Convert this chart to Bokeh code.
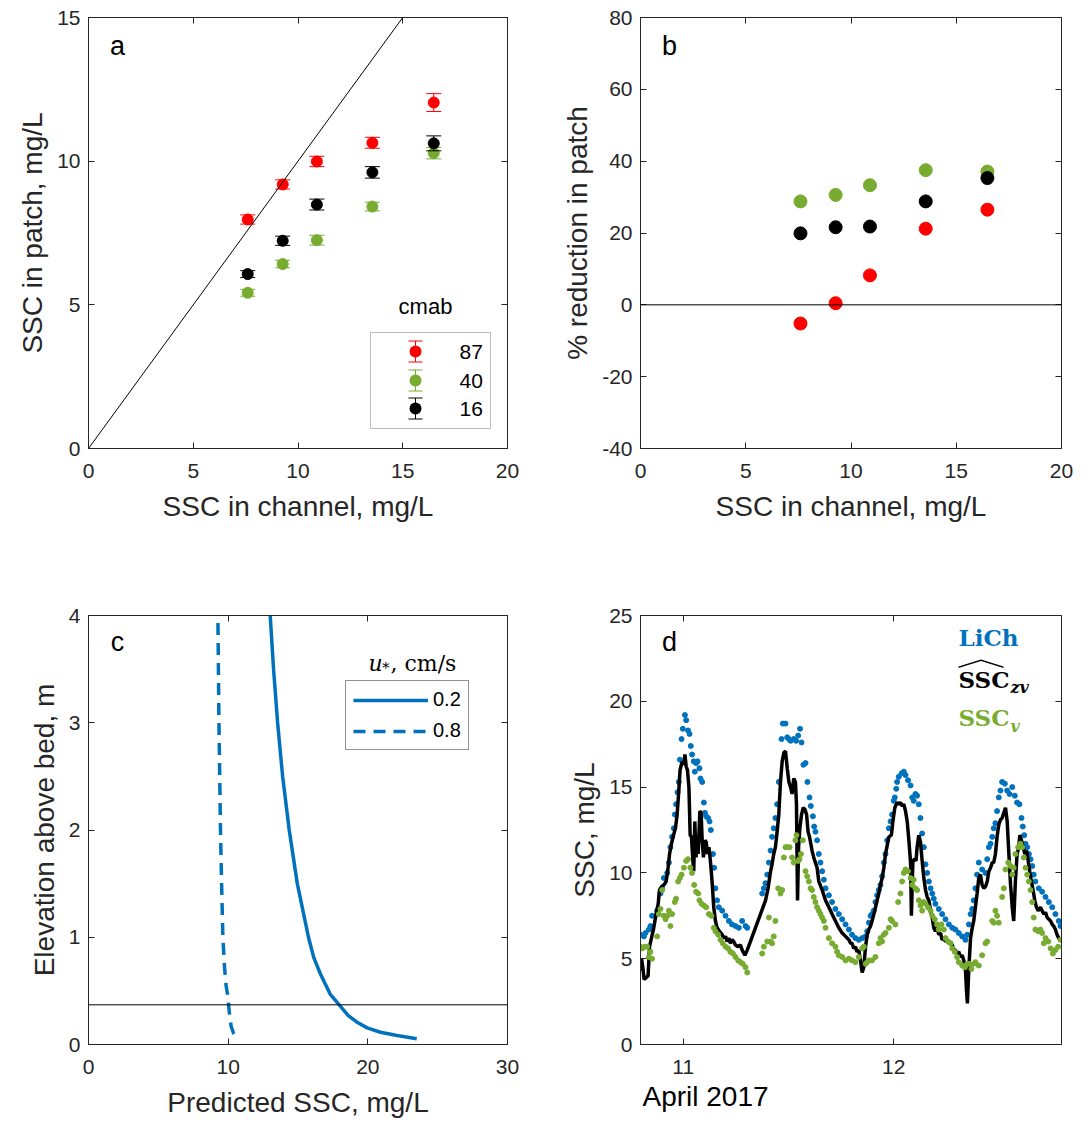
from bokeh.plotting import figure
from bokeh.models import (ColumnDataSource, Whisker, TeeHead, Span, Slope, Label, Legend, LegendItem,
                          LinearAxis, FixedTicker, Range1d, BoxAnnotation, PolyAnnotation, Title)
from bokeh.layouts import column, row
from bokeh.embed import file_html
from bokeh.resources import INLINE

SANS = "Liberation Sans"
SERIF = "DejaVu Serif"
AX = "#262626"
RED = "#FF0000"
GREEN = "#77AC30"
BLACK = "#000000"
BLUE = "#0072BD"

# ---------------- data ----------------
# panel a / b : SSC in channel (mg/L)
chan_ssc = [7.6, 9.27, 10.9, 13.55, 16.48]
cmab_labels = ["87", "40", "16"]
patch_87 = [7.97, 9.19, 9.99, 10.64, 12.04]
err_87 = [0.16, 0.16, 0.18, 0.19, 0.31]
patch_40 = [5.42, 6.42, 7.25, 8.42, 10.28]
err_40 = [0.12, 0.13, 0.17, 0.15, 0.20]
patch_16 = [6.07, 7.23, 8.49, 9.61, 10.62]
err_16 = [0.12, 0.16, 0.19, 0.20, 0.26]

red_87_reduction = [-5.2, 0.45, 8.2, 21.2, 26.5]
green_40_reduction = [28.8, 30.6, 33.3, 37.5, 37.1]
black_16_reduction = [19.9, 21.6, 21.8, 28.8, 35.3]

# panel c : predicted SSC profiles
ustar_labels = ["0.2", "0.8"]
z_02 = [4.0, 3.5, 3.0, 2.5, 2.0, 1.5, 1.0, 0.81, 0.66, 0.47, 0.356, 0.27, 0.21, 0.155, 0.114, 0.084, 0.053]
ssc_02 = [13.01, 13.25, 13.54, 13.9, 14.37, 14.95, 15.75, 16.13, 16.6, 17.3, 18.04, 18.6, 19.2, 19.95,
          20.9, 22.1, 23.5]
z_08 = [3.93, 3.0, 2.0, 1.5, 1.0, 0.72, 0.55, 0.45, 0.3, 0.17, 0.1, 0.056]
ssc_08 = [9.27, 9.34, 9.45, 9.53, 9.62, 9.74, 9.85, 9.98, 10.08, 10.21, 10.4, 10.64]
bed_line_z = 0.37

# panel d : time series (day of April 2017)
lich_t = [10.797, 10.813, 10.821, 10.837, 10.844, 10.852, 10.876, 10.892, 10.900, 10.908, 10.924, 10.932,
          10.939, 10.947, 10.955, 10.960, 10.966, 10.973, 10.979, 10.984, 10.992, 10.998, 11.008, 11.014,
          11.023, 11.030, 11.036, 11.042, 11.050, 11.055, 11.061, 11.068, 11.077, 11.082, 11.090, 11.098,
          11.103, 11.109, 11.118, 11.125, 11.131, 11.141, 11.147, 11.153, 11.161, 11.169, 11.185, 11.201,
          11.217, 11.232, 11.248, 11.264, 11.280, 11.296, 11.304,
          11.375, 11.383, 11.391, 11.399, 11.407, 11.415, 11.422, 11.430, 11.438, 11.446, 11.454, 11.467,
          11.473, 11.486, 11.494, 11.502, 11.510, 11.525, 11.536, 11.546, 11.555, 11.562, 11.571, 11.581,
          11.590, 11.600, 11.606, 11.616, 11.622, 11.628, 11.636, 11.644, 11.652, 11.660, 11.668, 11.676,
          11.692, 11.707, 11.723, 11.739, 11.755, 11.771, 11.787, 11.802, 11.818, 11.834, 11.850, 11.866,
          11.874, 11.882, 11.890, 11.897, 11.905, 11.913, 11.921, 11.929, 11.937, 11.945, 11.953, 11.961,
          11.969, 11.977, 11.985, 11.992, 12.000, 12.005, 12.012, 12.016, 12.024, 12.037, 12.048, 12.056,
          12.068, 12.080, 12.088, 12.095, 12.103, 12.111, 12.119, 12.127, 12.135, 12.143, 12.151, 12.159,
          12.167, 12.175, 12.183, 12.190, 12.198, 12.214, 12.230, 12.246, 12.262, 12.278, 12.293, 12.309,
          12.325, 12.341, 12.349, 12.357, 12.365, 12.373, 12.380, 12.388, 12.396, 12.404, 12.420, 12.436,
          12.444, 12.452, 12.460, 12.468, 12.475, 12.483, 12.491, 12.499, 12.507, 12.515, 12.528, 12.539,
          12.550, 12.563, 12.575, 12.586, 12.597, 12.607, 12.613, 12.620, 12.626, 12.634, 12.642, 12.650,
          12.658, 12.665, 12.673, 12.689, 12.705, 12.721, 12.737, 12.753, 12.768, 12.784, 12.792]
lich_v = [6.4, 6.3, 6.5, 6.7, 6.9, 7.5, 7.8, 8.8, 9.1, 9.7, 10.0, 10.6,
          11.5, 12.1, 12.6, 13.4, 14.0, 14.7, 15.3, 16.6, 17.8, 18.4, 19.2, 18.9,
          18.3, 18.1, 17.4, 16.9, 16.5, 15.9, 16.4, 16.5, 16.1, 15.5, 15.3, 14.1,
          13.5, 13.3, 13.2, 13.0, 12.5, 11.1, 10.3, 9.1, 8.4, 8.0, 7.8, 7.5,
          7.2, 7.0, 6.9, 6.8, 7.2, 6.9, 6.8,
          8.8, 9.1, 9.4, 9.9, 10.6, 11.3, 12.1, 12.6, 13.2, 14.0, 15.3, 17.8,
          18.7, 18.7, 17.9, 17.8, 17.7, 17.8, 17.7, 18.0, 18.4, 17.6, 16.3, 16.4,
          15.3, 14.4, 13.9, 13.3, 12.7, 12.4, 11.9, 11.1, 10.6, 10.1, 9.6, 9.1,
          8.7, 8.3, 7.9, 7.6, 7.3, 7.0, 6.7, 6.4, 6.2, 6.1, 6.2, 6.3,
          6.6, 7.1, 7.5, 7.6, 7.8, 8.3, 8.7, 9.0, 9.3, 9.8, 10.6, 11.1,
          11.9, 12.6, 13.0, 13.4, 14.2, 14.4, 14.9, 15.3, 15.6, 15.8, 15.9, 15.7,
          15.4, 15.1, 14.4, 14.2, 14.6, 14.5, 14.0, 13.2, 12.3, 11.5, 10.5, 10.0,
          9.5, 9.1, 8.8, 8.5, 8.2, 7.9, 7.6, 7.3, 7.0, 6.8, 6.7, 6.5,
          6.3, 6.1, 6.4, 7.0, 7.6, 7.9, 8.4, 9.1, 9.9, 10.6, 10.2, 10.0,
          10.8, 11.5, 11.7, 12.1, 12.6, 12.9, 13.6, 14.4, 14.8, 15.3, 15.2, 14.8,
          14.6, 15.0, 14.5, 14.1, 14.0, 13.2, 12.7, 12.2, 11.7, 11.5, 11.1, 10.8,
          10.4, 9.9, 9.5, 9.1, 8.9, 8.6, 8.3, 8.0, 7.6, 7.2, 6.9]

sschat_t = [10.792, 10.802, 10.808, 10.814, 10.824, 10.833, 10.840, 10.849, 10.860, 10.871, 10.881, 10.887,
            10.897, 10.908, 10.919, 10.928, 10.935, 10.944, 10.954, 10.963, 10.971, 10.979, 10.985, 10.995,
            11.003, 11.008, 11.014, 11.020, 11.027, 11.033, 11.039, 11.046, 11.050, 11.055, 11.061, 11.066,
            11.071, 11.079, 11.085, 11.090, 11.096, 11.103, 11.109, 11.115, 11.122, 11.129, 11.137, 11.145,
            11.153, 11.161, 11.172, 11.185, 11.193, 11.201, 11.209, 11.217, 11.224, 11.232, 11.240, 11.248,
            11.261, 11.272, 11.280, 11.293, 11.304, 11.319, 11.343, 11.367, 11.391, 11.403, 11.415, 11.422,
            11.430, 11.438, 11.446, 11.454, 11.462, 11.470, 11.478, 11.486, 11.494, 11.502, 11.510, 11.517,
            11.525, 11.533, 11.538, 11.543, 11.548, 11.554, 11.562, 11.570, 11.578, 11.586, 11.593, 11.600,
            11.606, 11.612, 11.620, 11.628, 11.636, 11.644, 11.660, 11.676, 11.692, 11.707, 11.723, 11.739,
            11.755, 11.771, 11.787, 11.795, 11.802, 11.810, 11.818, 11.826, 11.834, 11.842, 11.850, 11.858,
            11.866, 11.874, 11.882, 11.890, 11.897, 11.910, 11.921, 11.929, 11.937, 11.945, 11.953, 11.961,
            11.969, 11.977, 11.989, 11.996, 12.005, 12.016, 12.024, 12.032, 12.040, 12.048, 12.056, 12.064,
            12.072, 12.080, 12.084, 12.091, 12.100, 12.106, 12.111, 12.119, 12.127, 12.135, 12.143, 12.151,
            12.159, 12.167, 12.175, 12.183, 12.190, 12.198, 12.206, 12.214, 12.222, 12.230, 12.238, 12.246,
            12.254, 12.262, 12.270, 12.278, 12.285, 12.293, 12.301, 12.309, 12.317, 12.325, 12.333, 12.341,
            12.346, 12.350, 12.357, 12.365, 12.373, 12.380, 12.388, 12.396, 12.404, 12.412, 12.420, 12.428,
            12.436, 12.444, 12.452, 12.460, 12.468, 12.475, 12.483, 12.491, 12.499, 12.507, 12.515, 12.523,
            12.531, 12.539, 12.547, 12.555, 12.563, 12.570, 12.578, 12.586, 12.594, 12.599, 12.607, 12.615,
            12.623, 12.631, 12.639, 12.646, 12.654, 12.662, 12.670, 12.678, 12.686, 12.697, 12.705, 12.713,
            12.721, 12.729, 12.737, 12.745, 12.753, 12.760, 12.768, 12.776, 12.784, 12.792]
sschat_v = [4.3, 5.0, 4.5, 3.8, 3.9, 4.0, 5.7, 6.2, 6.8, 7.6, 8.2, 9.0,
            9.2, 9.3, 9.5, 10.3, 11.1, 11.7, 12.2, 12.6, 13.4, 14.8, 16.0, 16.5,
            16.3, 16.9, 16.2, 16.0, 15.0, 12.2, 12.1, 10.7, 10.1, 13.0, 10.9, 12.1,
            11.1, 13.6, 13.5, 11.9, 10.9, 11.9, 11.8, 11.1, 11.5, 10.7, 9.5, 8.0,
            7.2, 6.8, 6.6, 6.4, 6.2, 6.3, 6.0, 6.2, 5.9, 6.1, 6.0, 5.8,
            5.7, 5.8, 5.5, 5.2, 5.5, 6.0, 6.8, 7.6, 8.4, 9.1, 10.1, 10.5,
            11.1, 11.5, 12.4, 13.4, 15.3, 16.5, 17.0, 17.1, 16.1, 15.3, 15.0, 14.6,
            15.5, 15.3, 14.0, 8.4, 11.5, 12.6, 13.4, 13.8, 13.7, 13.4, 12.4, 12.1,
            11.7, 11.3, 10.9, 10.6, 10.3, 9.5, 9.0, 8.4, 8.0, 7.6, 7.2, 6.8,
            6.5, 6.3, 6.1, 5.9, 5.9, 5.6, 5.7, 5.4, 5.5, 4.9, 4.2, 4.5,
            5.7, 6.4, 6.7, 6.9, 7.2, 7.8, 8.4, 8.8, 9.3, 9.7, 10.3, 11.1,
            11.6, 12.1, 12.2, 13.0, 13.8, 14.1, 14.0, 14.1, 13.9, 14.0, 13.6, 13.0,
            11.9, 10.6, 7.5, 10.7, 10.8, 10.7, 11.5, 12.2, 11.8, 10.7, 9.7, 9.0,
            8.6, 8.4, 7.8, 7.4, 6.8, 6.6, 6.8, 6.4, 6.5, 6.1, 6.2, 6.0,
            6.1, 5.9, 5.9, 5.8, 5.5, 5.5, 5.3, 5.4, 5.1, 5.2, 4.9, 4.3,
            3.1, 2.4, 4.5, 6.2, 6.8, 7.2, 8.0, 8.8, 9.7, 9.9, 9.3, 9.1,
            9.2, 9.5, 10.1, 10.3, 10.6, 10.6, 11.1, 12.1, 12.8, 13.1, 13.2, 13.5,
            13.8, 13.0, 11.1, 9.3, 8.0, 7.2, 9.5, 11.1, 11.5, 12.2, 11.9, 11.5,
            11.1, 11.3, 10.7, 10.1, 9.5, 9.0, 8.4, 8.0, 7.8, 8.0, 7.8, 7.6,
            7.7, 7.4, 7.3, 7.2, 7.0, 6.9, 6.7, 6.4, 6.2, 6.1]

sscv_t = [10.797, 10.805, 10.818, 10.829, 10.837, 10.844, 10.852, 10.876, 10.884, 10.892, 10.900, 10.908,
          10.916, 10.924, 10.932, 10.939, 10.947, 10.960, 10.966, 10.976, 10.984, 10.992, 11.003, 11.014,
          11.023, 11.034, 11.042, 11.052, 11.061, 11.071, 11.077, 11.087, 11.098, 11.109, 11.122, 11.134,
          11.145, 11.153, 11.166, 11.177, 11.188, 11.201, 11.213, 11.224, 11.236, 11.248, 11.261, 11.272,
          11.283, 11.296, 11.304,
          11.375, 11.383, 11.399, 11.407, 11.415, 11.422, 11.430, 11.438, 11.451, 11.462, 11.470, 11.478,
          11.486, 11.494, 11.505, 11.517, 11.525, 11.533, 11.538, 11.546, 11.552, 11.559, 11.568, 11.581,
          11.589, 11.597, 11.605, 11.612, 11.620, 11.628, 11.636, 11.644, 11.652, 11.660, 11.668, 11.676,
          11.692, 11.707, 11.723, 11.731, 11.739, 11.755, 11.771, 11.787, 11.802, 11.818, 11.834, 11.850,
          11.858, 11.866, 11.874, 11.882, 11.897, 11.913, 11.929, 11.937, 11.945, 11.953, 11.961, 11.977,
          11.985, 11.992, 12.008, 12.021, 12.032, 12.040, 12.048, 12.056, 12.068, 12.080, 12.088, 12.095,
          12.103, 12.111, 12.119, 12.127, 12.135, 12.143, 12.151, 12.163, 12.175, 12.183, 12.195, 12.206,
          12.214, 12.227, 12.238, 12.246, 12.258, 12.270, 12.278, 12.290, 12.301, 12.309, 12.325, 12.338,
          12.349, 12.360, 12.369, 12.380, 12.388, 12.404, 12.420, 12.436, 12.444, 12.468, 12.475, 12.483,
          12.491, 12.499, 12.515, 12.523, 12.531, 12.544, 12.555, 12.563, 12.570, 12.578, 12.591, 12.602,
          12.610, 12.618, 12.626, 12.634, 12.642, 12.650, 12.658, 12.665, 12.673, 12.686, 12.697, 12.705,
          12.713, 12.721, 12.734, 12.745, 12.756, 12.768, 12.781, 12.792]
sscv_v = [5.7, 5.6, 5.7, 5.7, 5.1, 5.4, 5.0, 6.3, 7.6, 7.9, 9.0, 7.5,
          7.3, 7.5, 7.8, 6.9, 7.6, 8.3, 8.5, 9.5, 9.7, 9.9, 10.3, 10.7,
          10.8, 10.3, 10.0, 9.3, 8.9, 8.8, 8.4, 8.2, 8.1, 8.0, 7.6, 7.5,
          6.8, 6.6, 6.4, 6.1, 5.9, 5.7, 5.6, 5.4, 5.3, 5.1, 4.9, 4.8,
          4.7, 4.5, 4.2,
          5.3, 5.7, 6.0, 7.4, 6.0, 5.9, 6.3, 7.2, 9.1, 8.8, 9.0, 10.9,
          11.5, 11.5, 11.5, 10.9, 10.6, 11.9, 12.2, 10.7, 10.8, 11.1, 11.9, 10.1,
          9.8, 9.5, 9.1, 9.0, 8.6, 8.3, 8.0, 7.8, 7.6, 7.4, 7.2, 6.8,
          6.2, 5.9, 5.7, 5.4, 5.2, 5.1, 4.9, 5.0, 4.9, 4.8, 5.1, 5.6,
          5.7, 4.7, 4.8, 4.9, 4.9, 5.1, 5.9, 6.2, 6.0, 6.4, 6.5, 6.8,
          7.3, 7.2, 7.0, 8.3, 8.8, 9.5, 10.0, 10.2, 10.1, 9.7, 9.3, 9.6,
          9.1, 9.0, 8.4, 8.1, 7.8, 8.3, 8.2, 8.0, 7.8, 7.5, 7.3, 7.0,
          6.7, 7.0, 6.7, 6.2, 6.0, 5.9, 5.6, 5.4, 5.1, 4.8, 4.6, 4.5,
          4.7, 4.7, 4.4, 4.7, 4.8, 4.6, 5.2, 5.9, 6.0, 7.2, 7.1, 7.8,
          7.5, 7.1, 8.6, 9.1, 10.2, 10.6, 10.4, 9.9, 10.3, 11.1, 11.5, 11.7,
          11.5, 10.9, 10.3, 9.9, 9.5, 9.0, 8.3, 7.4, 6.7, 6.6, 6.7, 6.5,
          5.9, 6.2, 6.0, 5.6, 5.3, 5.5, 5.7, 6.1]

# ---------------- helpers ----------------
def make_fig(xr, yr, fw, fh, bl, br, bt, bb):
    p = figure(x_range=Range1d(*xr), y_range=Range1d(*yr), frame_width=fw, frame_height=fh,
               min_border_left=bl, min_border_right=br, min_border_top=bt, min_border_bottom=bb,
               output_backend="svg", toolbar_location=None)
    p.grid.visible = False
    p.outline_line_color = AX
    p.outline_line_width = 1
    p.background_fill_color = "white"
    p.border_fill_color = "white"
    return p


def style_axes(p, xticks, yticks, xlabel, ylabel, yoverrides=None):
    p.xaxis.ticker = FixedTicker(ticks=xticks)
    p.yaxis.ticker = FixedTicker(ticks=yticks)
    if xlabel:
        p.xaxis.axis_label = xlabel
    p.yaxis.axis_label = ylabel
    if yoverrides:
        p.yaxis.major_label_overrides = yoverrides
    top = LinearAxis(ticker=FixedTicker(ticks=xticks))
    right = LinearAxis(ticker=FixedTicker(ticks=yticks))
    p.add_layout(top, "above")
    p.add_layout(right, "right")
    for ax in list(p.xaxis) + list(p.yaxis):
        ax.major_tick_in = 6
        ax.major_tick_out = 0
        ax.minor_tick_in = 0
        ax.minor_tick_out = 0
        ax.axis_line_color = AX
        ax.axis_line_width = 1
        ax.major_tick_line_color = AX
        ax.major_label_text_font = SANS
        ax.major_label_text_font_size = "21px"
        ax.major_label_text_color = AX
        ax.axis_label_text_font = SANS
        ax.axis_label_text_font_size = "28px"
        ax.axis_label_text_font_style = "normal"
        ax.axis_label_text_color = AX
    for ax in p.xaxis:
        ax.major_label_standoff = 15
        ax.axis_label_standoff = 10
    for ax in p.yaxis:
        ax.major_label_standoff = 8
        ax.axis_label_standoff = 6
    for ax in (top, right):
        ax.major_label_text_font_size = "0px"
        ax.major_label_text_color = None
        ax.major_label_standoff = 0


def panel_letter(p, letter):
    p.add_layout(Label(x=29, y=403, x_units="screen", y_units="screen", text=letter,
                       text_font=SANS, text_font_size="27px", text_color=BLACK,
                       text_align="center", text_baseline="middle"))

# ---------------- panel a ----------------
pa = make_fig((0, 20), (0, 15), 419, 431, 88, 46, 17, 130)
style_axes(pa, [0, 5, 10, 15, 20], [0, 5, 10, 15], "SSC in channel, mg/L", "SSC in patch, mg/L")
pa.add_layout(Slope(gradient=1, y_intercept=0, line_color=BLACK, line_width=1))
groups_a = [(patch_87, err_87, RED), (patch_40, err_40, GREEN), (patch_16, err_16, BLACK)]
for vals, errs, col in groups_a:
    src = ColumnDataSource(dict(x=chan_ssc, y=vals,
                                lo=[v - e for v, e in zip(vals, errs)],
                                hi=[v + e for v, e in zip(vals, errs)]))
    pa.segment(x0="x", y0="lo", x1="x", y1="hi", source=src, line_color=col, line_width=1)
    pa.scatter(x="x", y="lo", source=src, marker="dash", size=15, line_color=col, line_width=1)
    pa.scatter(x="x", y="hi", source=src, marker="dash", size=15, line_color=col, line_width=1)
    pa.scatter(x="x", y="y", source=src, marker="circle", size=11, fill_color=col, line_color=col)
panel_letter(pa, "a")

# legend of panel a (screen units, relative to frame)
pa.add_layout(BoxAnnotation(left=282, right=402, bottom=20, top=116, left_units="screen",
                            right_units="screen", bottom_units="screen", top_units="screen",
                            fill_color="white", fill_alpha=1, line_color=AX, line_width=1,
                            level="annotation"))
pa.add_layout(Label(x=337, y=142, x_units="screen", y_units="screen", text="cmab", text_font=SANS,
                    text_font_size="22px", text_color=BLACK, text_align="center", text_baseline="middle"))
leg_y = [97, 68, 40]
for lab, (vals, errs, col), yc in zip(cmab_labels, groups_a, leg_y):
    wsrc = ColumnDataSource(dict(base=[327], lower=[yc - 10.5], upper=[yc + 10.5]))
    pa.add_layout(Whisker(base="base", lower="lower", upper="upper", source=wsrc, dimension="height",
                          base_units="screen", lower_units="screen", upper_units="screen",
                          line_color=col, line_width=1, level="annotation",
                          upper_head=TeeHead(size=14, line_color=col, line_width=1),
                          lower_head=TeeHead(size=14, line_color=col, line_width=1)))
    pa.add_layout(BoxAnnotation(left=321, right=333, bottom=yc - 6, top=yc + 6,
                                left_units="screen", right_units="screen", bottom_units="screen",
                                top_units="screen", fill_color=col, fill_alpha=1, line_color=None,
                                border_radius=6, level="annotation"))
    pa.add_layout(Label(x=371, y=yc, x_units="screen", y_units="screen", text=lab, text_font=SANS,
                        text_font_size="21px", text_color=BLACK, text_align="left",
                        text_baseline="middle"))

# ---------------- panel b ----------------
pb = make_fig((0, 20), (-40, 80), 421, 431, 87, 22, 17, 130)
style_axes(pb, [0, 5, 10, 15, 20], [-40, -20, 0, 20, 40, 60, 80], "SSC in channel, mg/L",
           "% reduction in patch", {-40: "-40", -20: "-20"})
pb.add_layout(Span(location=0, dimension="width", line_color=BLACK, line_width=1))
for vals, col in [(red_87_reduction, RED), (green_40_reduction, GREEN), (black_16_reduction, BLACK)]:
    pb.scatter(x=chan_ssc, y=vals, marker="circle", size=13, fill_color=col, line_color=col)
panel_letter(pb, "b")

# ---------------- panel c ----------------
pc = make_fig((0, 30), (0, 4), 419, 429, 88, 46, 37, 60)
style_axes(pc, [0, 10, 20, 30], [0, 1, 2, 3, 4], "Predicted SSC, mg/L", "Elevation above bed, m")
pc.add_layout(Span(location=bed_line_z, dimension="width", line_color=BLACK, line_width=1))
r02 = pc.line(x=ssc_02, y=z_02, line_color=BLUE, line_width=3.5)
r08 = pc.line(x=ssc_08, y=z_08, line_color=BLUE, line_width=3.5, line_dash="12 8")
leg_c = Legend(items=[LegendItem(label=ustar_labels[0], renderers=[r02]),
                      LegendItem(label=ustar_labels[1], renderers=[r08])],
               location=(257, 294), glyph_width=75, glyph_height=18, label_height=18,
               label_standoff=5, padding=7, spacing=8, margin=0,
               label_text_font=SANS, label_text_font_size="20px", label_text_color=BLACK,
               label_text_line_height=1.0,
               border_line_color=AX, border_line_width=1, background_fill_alpha=1)
pc.add_layout(leg_c)
pc.add_layout(Label(x=280, y=381, x_units="screen", y_units="screen", text="u", text_font=SERIF,
                    text_font_style="italic", text_font_size="22px", text_color=BLACK,
                    text_baseline="alphabetic", level="overlay"))
pc.add_layout(Label(x=292, y=380, x_units="screen", y_units="screen", text="\u2217", text_font=SERIF,
                    text_font_size="15px", text_color=BLACK, text_baseline="middle", level="overlay"))
pc.add_layout(Label(x=302, y=381, x_units="screen", y_units="screen", text=", cm/s", text_font=SERIF,
                    text_font_size="22px", text_color=BLACK, text_baseline="alphabetic", level="overlay"))
panel_letter(pc, "c")

# ---------------- panel d ----------------
pd_ = make_fig((10.797, 12.797), (0, 25), 421, 429, 87, 22, 37, 60)
style_axes(pd_, [11, 12], [0, 5, 10, 15, 20, 25], None, "SSC, mg/L")
pd_.add_layout(Title(text="April 2017", align="left", text_font=SANS, text_font_size="28px",
                     text_font_style="normal", text_color=BLACK, standoff=4, offset=2), "below")
pd_.scatter(x=lich_t, y=lich_v, marker="circle", size=5, fill_color=BLUE, line_color=BLUE)
pd_.line(x=sschat_t, y=sschat_v, line_color=BLACK, line_width=3.5)
pd_.scatter(x=sscv_t, y=sscv_v, marker="circle", size=5, fill_color=GREEN, line_color=GREEN)
panel_letter(pd_, "d")
pd_.add_layout(Label(x=318, y=407, x_units="screen", y_units="screen", text="LiCh", text_font=SERIF,
                     text_font_style="bold", text_font_size="23px", text_color=BLUE,
                     text_baseline="middle"))
pd_.add_layout(Label(x=318, y=365, x_units="screen", y_units="screen", text="SSC", text_font=SERIF,
                     text_font_style="bold", text_font_size="23px", text_color=BLACK,
                     text_baseline="middle"))
pd_.add_layout(Label(x=370, y=357, x_units="screen", y_units="screen", text="zv", text_font=SERIF,
                     text_font_style="bold italic", text_font_size="16px", text_color=BLACK,
                     text_baseline="middle"))
pd_.add_layout(PolyAnnotation(xs=[318, 340.5, 363, 363, 340.5, 318], ys=[378, 385, 378, 376.5, 383.5, 376.5],
                              xs_units="screen", ys_units="screen", fill_color=BLACK, fill_alpha=1,
                              line_color=None))
pd_.add_layout(Label(x=318, y=327, x_units="screen", y_units="screen", text="SSC", text_font=SERIF,
                     text_font_style="bold", text_font_size="23px", text_color=GREEN,
                     text_baseline="middle"))
pd_.add_layout(Label(x=370, y=318, x_units="screen", y_units="screen", text="v", text_font=SERIF,
                     text_font_style="bold italic", text_font_size="16px", text_color=GREEN,
                     text_baseline="middle"))

layout = column(row(pa, pb), row(pc, pd_))
open("out.html", "w").write(file_html(layout, INLINE))
